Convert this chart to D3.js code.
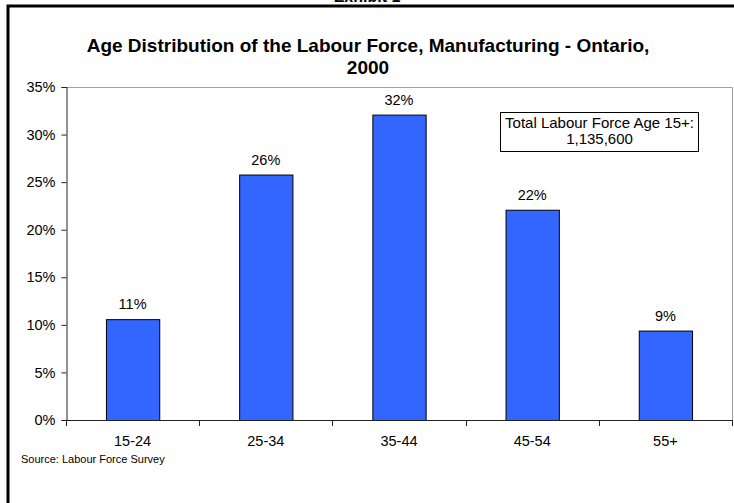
<!DOCTYPE html>
<html>
<head>
<meta charset="utf-8">
<script src="https://cdn.jsdelivr.net/npm/d3@7"></script>
<style>
  html, body { margin: 0; padding: 0; background: #fff; }
  svg { display: block; font-family: "Liberation Sans", Arial, sans-serif; }
</style>
</head>
<body>
<svg id="chart" width="734" height="503"></svg>
<script>
// Age groups and their share of the manufacturing labour force
const categories = ["15-24", "25-34", "35-44", "45-54", "55+"];
const shares = [10.6, 25.8, 32.1, 22.1, 9.4];
const shareLabels = ["11%", "26%", "32%", "22%", "9%"];
const yTicks = [0, 5, 10, 15, 20, 25, 30, 35];
const titleLines = ["Age Distribution of the Labour Force, Manufacturing - Ontario,", "2000"];
const noteLines = ["Total Labour Force Age 15+:", "1,135,600"];
const sourceText = "Source: Labour Force Survey";

const svg = d3.select("#chart");
const plot = { left: 66, right: 732, top: 87, bottom: 420 };

const x = d3.scaleBand()
  .domain(categories)
  .range([plot.left, plot.right])
  .paddingInner(0.6)
  .paddingOuter(0.3);

const y = d3.scaleLinear()
  .domain([0, 35])
  .range([plot.bottom, plot.top]);

// Exhibit heading, sitting at the top edge of the page
svg.append("text")
  .attr("x", 367).attr("y", 2)
  .attr("text-anchor", "middle")
  .attr("font-size", 16).attr("font-weight", "bold")
  .text("Exhibit 1");

// Outer frame
svg.append("path")
  .attr("d", `M8,510 L8,6 L740,6`)
  .attr("fill", "none").attr("stroke", "#000").attr("stroke-width", 3);

// Title
svg.append("g").selectAll("text")
  .data(titleLines)
  .join("text")
  .attr("x", 368)
  .attr("y", (d, i) => 52 + i * 22)
  .attr("text-anchor", "middle")
  .attr("font-size", 19).attr("font-weight", "bold")
  .text(d => d);

// Plot area border (top and right)
svg.append("path")
  .attr("d", `M${plot.left},${plot.top + 0.5} L${plot.right + 0.5},${plot.top + 0.5} L${plot.right + 0.5},${plot.bottom}`)
  .attr("fill", "none").attr("stroke", "#a0a0a0").attr("stroke-width", 1);

// Y axis
const yAxis = svg.append("g")
  .attr("transform", `translate(${plot.left + 0.5},0)`)
  .call(d3.axisLeft(y).tickValues(yTicks).tickSize(5).tickPadding(6).tickFormat(d => d + "%"));
yAxis.select(".domain").attr("stroke", "#222");
yAxis.selectAll(".tick line").attr("stroke", "#222");
yAxis.selectAll("text").attr("font-size", 14.5).attr("font-family", "Liberation Sans, Arial, sans-serif").attr("fill", "#000");

// Bars
svg.append("g").selectAll("rect")
  .data(categories)
  .join("rect")
  .attr("x", d => x(d) + 0.5)
  .attr("y", (d, i) => y(shares[i]) + 0.5)
  .attr("width", x.bandwidth())
  .attr("height", (d, i) => y(0) - y(shares[i]))
  .attr("fill", "#3366ff")
  .attr("stroke", "#000").attr("stroke-width", 1);

// Value labels
svg.append("g").selectAll("text")
  .data(categories)
  .join("text")
  .attr("x", d => x(d) + x.bandwidth() / 2)
  .attr("y", (d, i) => y(shares[i]) - 10)
  .attr("text-anchor", "middle")
  .attr("font-size", 14.5)
  .text((d, i) => shareLabels[i]);

// X axis line and category boundary ticks
const tickXs = categories.map((d, i) => plot.left + i * x.step()).concat([plot.right]);
svg.append("line")
  .attr("x1", plot.left).attr("x2", plot.right + 1)
  .attr("y1", plot.bottom + 0.5).attr("y2", plot.bottom + 0.5)
  .attr("stroke", "#222");
svg.append("g").selectAll("line")
  .data(tickXs)
  .join("line")
  .attr("x1", d => Math.round(d) + 0.5).attr("x2", d => Math.round(d) + 0.5)
  .attr("y1", plot.bottom).attr("y2", plot.bottom + 6)
  .attr("stroke", "#222");

// Category labels
svg.append("g").selectAll("text")
  .data(categories)
  .join("text")
  .attr("x", d => x(d) + x.bandwidth() / 2)
  .attr("y", 446)
  .attr("text-anchor", "middle")
  .attr("font-size", 14.5)
  .text(d => d);

// Source note
svg.append("text")
  .attr("x", 21).attr("y", 463)
  .attr("font-size", 11)
  .text(sourceText);

// Total labour force annotation
const note = svg.append("g");
note.append("rect")
  .attr("x", 500.5).attr("y", 112.5)
  .attr("width", 198).attr("height", 39)
  .attr("fill", "#fff").attr("stroke", "#000").attr("stroke-width", 1);
note.selectAll("text")
  .data(noteLines)
  .join("text")
  .attr("x", 599.5)
  .attr("y", (d, i) => 128 + i * 16)
  .attr("text-anchor", "middle")
  .attr("font-size", 15)
  .text(d => d);
</script>
</body>
</html>
